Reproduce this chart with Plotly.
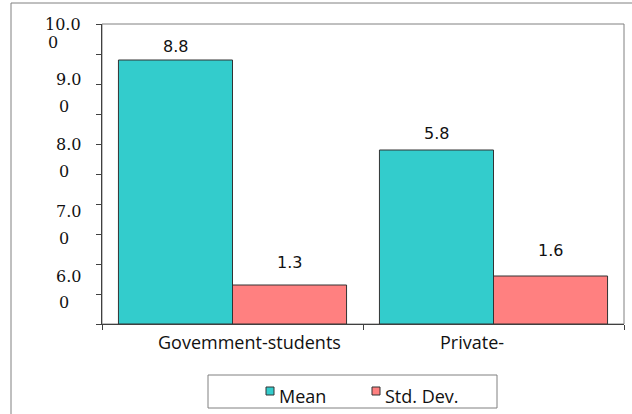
import plotly.graph_objects as go

# ---- data ----
categories = ["Govemment-students", "Private-"]
series_names = ["Mean", "Std. Dev."]
mean_values = [8.8, 5.8]
std_values = [1.3, 1.6]
y_tick_labels = ["10.00", "9.00", "8.00", "7.00", "6.00"]

# ---- styling ----
series_colors = ["#33CCCC", "#FF8080"]
edge_color = "#333333"
frame_color = "#808080"
axis_color = "#404040"
text_color = "#111111"
sans = "Open Sans"

W, H = 632, 414
L, R, T, B = 102, 8, 24, 90
PW, PH = W - L - R, H - T - B


def px_x(x):
    return (x - L) / PW


def px_y(y):
    return (H - B - y) / PH


series_values = [mean_values, std_values]

fig = go.Figure()
for name, vals, col in zip(series_names, series_values, series_colors):
    fig.add_trace(go.Bar(
        name=name, x=categories, y=vals,
        marker=dict(color=col, line=dict(color=edge_color, width=1)),
        hoverinfo="x+y",
    ))

annotations = []

# value labels above each bar (pixel gap from bar top to label centre)
bar_half_px = 57
label_gap_px = [[14, 17], [23, 26]]
for s, (vals, gaps) in enumerate(zip(series_values, label_gap_px)):
    dx = (-1 if s == 0 else 1) * bar_half_px
    for cat, v, g in zip(categories, vals, gaps):
        annotations.append(dict(
            text=f"{v:.1f}", xref="x", yref="y", x=cat, y=v,
            xshift=dx, yshift=g, xanchor="center", yanchor="middle",
            showarrow=False,
            font=dict(family="DejaVu Sans", size=16, color=text_color)))

# wrapped value-axis labels (each label breaks before its last character)
first_line_px = [24, 79, 144, 211, 276]
second_line_px = [42, 106, 171, 238, 302]
label_right_px = 83
digit_w, dot_w = 10.2, 5.1
for lab, y1, y2 in zip(y_tick_labels, first_line_px, second_line_px):
    head, tail = lab[:-1], lab[-1]
    width = sum(dot_w if c == "." else digit_w for c in head)
    annotations.append(dict(
        text=head, xref="paper", yref="paper", x=px_x(label_right_px), y=px_y(y1),
        xanchor="right", yanchor="middle", showarrow=False,
        font=dict(family="DejaVu Serif", size=16, color=text_color)))
    annotations.append(dict(
        text=tail, xref="paper", yref="paper", x=px_x(label_right_px - width - 1), y=px_y(y2),
        xanchor="left", yanchor="middle", showarrow=False,
        font=dict(family="DejaVu Serif", size=16, color=text_color)))

# category labels
cat_shift = [17, -22]
for cat, dx in zip(categories, cat_shift):
    annotations.append(dict(
        text=cat, xref="x", yref="paper", x=cat, y=px_y(342), xshift=dx,
        xanchor="center", yanchor="middle", showarrow=False,
        font=dict(family=sans, size=18, color=text_color)))

shapes = [
    # chart frame
    dict(type="rect", xref="paper", yref="paper", x0=px_x(11), x1=px_x(700),
         y0=px_y(500), y1=px_y(3), line=dict(color=frame_color, width=1), layer="below"),
    # plot-area frame
    dict(type="rect", xref="paper", yref="paper", x0=0, x1=1, y0=0, y1=1,
         line=dict(color=frame_color, width=1), layer="below"),
    # legend box
    dict(type="rect", xref="paper", yref="paper", x0=px_x(208), x1=px_x(497),
         y0=px_y(408), y1=px_y(375), line=dict(color=frame_color, width=1),
         fillcolor="white"),
]
legend_marker_px = [266, 372]
for name, col, mx in zip(series_names, series_colors, legend_marker_px):
    shapes.append(dict(type="rect", xref="paper", yref="paper",
                       x0=px_x(mx), x1=px_x(mx + 8), y0=px_y(395), y1=px_y(387),
                       line=dict(color=edge_color, width=1), fillcolor=col))
    annotations.append(dict(
        text=name, xref="paper", yref="paper", x=px_x(mx + 11), y=px_y(396),
        xanchor="left", yanchor="middle", showarrow=False,
        font=dict(family=sans, size=18, color=text_color)))

fig.update_layout(
    width=W, height=H,
    margin=dict(l=L, r=R, t=T, b=B, pad=0),
    paper_bgcolor="white", plot_bgcolor="white",
    barmode="group", bargap=0.126, bargroupgap=0,
    showlegend=False,
    shapes=shapes, annotations=annotations,
    xaxis=dict(showline=True, linecolor=axis_color, linewidth=1,
               ticks="outside", ticklen=5, tickcolor=axis_color,
               tickson="boundaries", showticklabels=False, showgrid=False,
               zeroline=False),
    yaxis=dict(range=[0, 10], dtick=1, showline=True, linecolor=axis_color,
               linewidth=1, ticks="outside", ticklen=5, tickcolor=axis_color,
               showticklabels=False, showgrid=False, zeroline=False),
)

fig.write_html("out.html")
